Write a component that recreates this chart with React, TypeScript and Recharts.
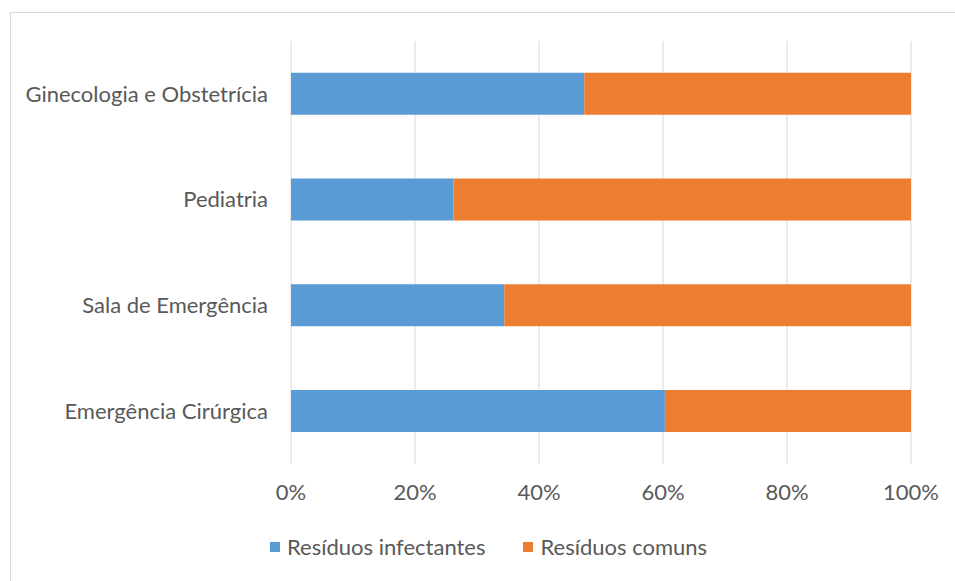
import { BarChart, Bar, XAxis, YAxis, CartesianGrid } from "recharts";

const categories = [
  "Ginecologia e Obstetrícia",
  "Pediatria",
  "Sala de Emergência",
  "Emergência Cirúrgica",
];
const infectantes = [47.3, 26.2, 34.4, 60.3];
const comuns = [52.7, 73.8, 65.6, 39.7];
const xTicks = [0, 0.2, 0.4, 0.6, 0.8, 1];
const seriesNames = ["Resíduos infectantes", "Resíduos comuns"];
const seriesColors = ["#5b9bd5", "#ed7d31"];

const data = categories.map((name, i) => ({
  name,
  infectantes: infectantes[i],
  comuns: comuns[i],
}));

const font = "Lato, 'Open Sans', sans-serif";
const textColor = "#595959";

export default function App() {
  return (
    <div style={{ position: "absolute", left: 0, top: 0, width: 955, height: 581, background: "#fff", fontFamily: font, overflow: "hidden" }}>
      <div
        style={{
          position: "absolute",
          left: 10,
          top: 12,
          width: 960,
          height: 600,
          borderLeft: "1px solid #d9d9d9",
          borderTop: "1px solid #d9d9d9",
        }}
      />
      <BarChart
        width={955}
        height={581}
        data={data}
        layout="vertical"
        stackOffset="expand"
        barCategoryGap="30%"
        margin={{ top: 41, right: 44, bottom: 77, left: 0 }}
        style={{ position: "absolute", left: 0, top: 0 }}
      >
        <CartesianGrid horizontal={false} stroke="#d9d9d9" strokeWidth={1} />
        <XAxis
          type="number"
          domain={[0, 1]}
          ticks={xTicks}
          tickFormatter={(v: number) => `${Math.round(v * 100)}%`}
          axisLine={false}
          tickLine={false}
          tickSize={0}
          tickMargin={20}
          tick={{ fill: textColor, fontSize: 22, fontFamily: font }}
          height={40}
        />
        <YAxis
          type="category"
          dataKey="name"
          width={291}
          axisLine={false}
          tickLine={false}
          tickSize={0}
          tickMargin={23}
          tick={{ fill: textColor, fontSize: 22, fontFamily: font }}
        />
        <Bar dataKey="infectantes" name={seriesNames[0]} stackId="a" fill={seriesColors[0]} isAnimationActive={false} />
        <Bar dataKey="comuns" name={seriesNames[1]} stackId="a" fill={seriesColors[1]} isAnimationActive={false} />
      </BarChart>
      <div
        style={{
          position: "absolute",
          left: 270,
          top: 534,
          display: "flex",
          alignItems: "center",
          gap: 38,
          fontSize: 22,
          color: textColor,
          lineHeight: "26px",
        }}
      >
        {seriesNames.map((n, i) => (
          <div key={n} style={{ display: "flex", alignItems: "center" }}>
            <span style={{ width: 10, height: 10, background: seriesColors[i], marginRight: 7, display: "inline-block" }} />
            <span>{n}</span>
          </div>
        ))}
      </div>
    </div>
  );
}
